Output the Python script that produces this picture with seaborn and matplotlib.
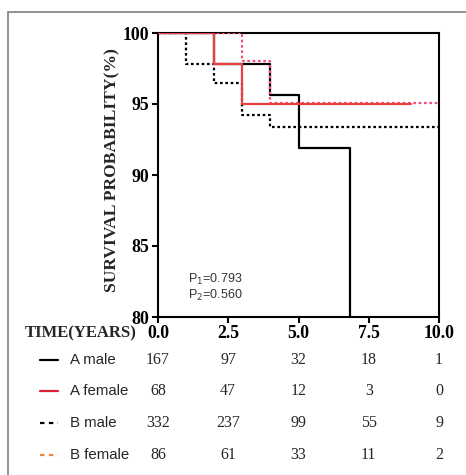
import matplotlib
matplotlib.use("Agg")
import matplotlib.pyplot as plt
import seaborn as sns
import pandas as pd
from matplotlib.lines import Line2D
from matplotlib.patches import Rectangle
import matplotlib.transforms as mtransforms

# ---- data ----
groups = ["A male", "A female", "B male", "B female"]
a_male_t = [0, 2, 4, 5, 6.85]
a_male_s = [100, 97.8, 95.6, 91.9, 70]
a_female_t = [0, 2, 3, 9]
a_female_s = [100, 97.8, 95.0, 95.0]
b_male_t = [0, 1, 2, 3, 4, 10]
b_male_s = [100, 97.8, 96.5, 94.2, 93.4, 93.4]
b_female_t = [0, 3, 4, 10]
b_female_s = [100, 98.0, 95.1, 95.1]

time_ticks = [0.0, 2.5, 5.0, 7.5, 10.0]
time_labels = ["0.0", "2.5", "5.0", "7.5", "10.0"]
y_ticks = [80, 85, 90, 95, 100]
risk_a_male = [167, 97, 32, 18, 1]
risk_a_female = [68, 47, 12, 3, 0]
risk_b_male = [332, 237, 99, 55, 9]
risk_b_female = [86, 61, 33, 11, 2]
p_texts = ["P$_1$=0.793", "P$_2$=0.560"]

series_t = [a_male_t, a_female_t, b_male_t, b_female_t]
series_s = [a_male_s, a_female_s, b_male_s, b_female_s]
risks = [risk_a_male, risk_a_female, risk_b_male, risk_b_female]

styles = {
    "A male": dict(color="black", ls="-", lw=1.6),
    "A female": dict(color="#e8403f", ls="-", lw=1.6),
    "B male": dict(color="black", ls=(0, (1.2, 1.2)), lw=1.6),
    "B female": dict(color="#f0507a", ls=(0, (1.2, 1.2)), lw=1.6),
}
legend_styles = {
    "A male": dict(color="black", ls="-", lw=1.6),
    "A female": dict(color="#e0203a", ls="-", lw=1.6),
    "B male": dict(color="black", ls=(0, (2, 2)), lw=1.6),
    "B female": dict(color="#f08040", ls=(0, (2, 2)), lw=1.6),
}

sns.set_style("ticks")
plt.rcParams["font.family"] = ["Liberation Serif", "DejaVu Serif"]

fig = plt.figure(figsize=(4.66, 4.75), dpi=100)
W, H = 466, 475
ax = fig.add_axes([158 / W, 1 - 317 / H, (439 - 158) / W, (317 - 33) / H])

frames = []
for g, t, s in zip(groups, series_t, series_s):
    frames.append(pd.DataFrame({"time": t, "surv": s, "group": g}))
df = pd.concat(frames, ignore_index=True)

draw_order = ["B male", "A male", "B female", "A female"]
for g in draw_order:
    sub = df[df["group"] == g]
    st = styles[g]
    sns.lineplot(data=sub, x="time", y="surv", ax=ax, estimator=None, sort=False,
                 drawstyle="steps-post", color=st["color"], linestyle=st["ls"],
                 linewidth=st["lw"], zorder=3)

ax.set_xlim(0, 10)
ax.set_ylim(80, 100)
ax.set_xticks(time_ticks)
ax.set_xticklabels(time_labels)
ax.set_yticks(y_ticks)
ax.set_xlabel("")
ax.set_ylabel("SURVIVAL PROBABILITY(%)", fontsize=12.6, fontweight="bold")
for sp in ax.spines.values():
    sp.set_visible(True)
    sp.set_linewidth(1.5)
    sp.set_color("black")
ax.tick_params(axis="both", direction="out", length=4, width=1.5, colors="black",
               labelsize=12.8, pad=2)
for lab in ax.get_xticklabels() + ax.get_yticklabels():
    lab.set_fontweight("bold")
ax.yaxis.set_label_coords(-0.135, 0.518)

for i, txt in enumerate(p_texts):
    ax.text(188 / W, 1 - (279 + i * 16) / H, txt, transform=fig.transFigure,
            fontsize=9, family=["Liberation Sans", "DejaVu Sans"], color="#333333",
            va="center", ha="left")

# risk table
fig.text(25 / W, 1 - 333 / H, "TIME(YEARS)", fontsize=12, fontweight="bold",
         va="center", ha="left")
blend = mtransforms.blended_transform_factory(ax.transData, fig.transFigure)
row_y = [360, 391, 423, 455]
for g, ry, rk in zip(groups, row_y, risks):
    yf = 1 - ry / H
    st = legend_styles[g]
    fig.add_artist(Line2D([40 / W, 58 / W], [yf, yf], transform=fig.transFigure,
                          color=st["color"], linestyle=st["ls"], linewidth=st["lw"]))
    fig.text(70 / W, yf, g, fontsize=10.8, family=["Liberation Sans", "DejaVu Sans"],
             va="center", ha="left")
    for xt, n in zip(time_ticks, rk):
        ax.text(xt, yf, str(n), transform=blend, fontsize=11.5, ha="center",
                va="center", clip_on=False)

# outer frame
fig.add_artist(Rectangle((8 / W, -0.1), 1.2, 1 - 12 / H + 0.1, transform=fig.transFigure,
                         fill=False, edgecolor="#7f7f7f", linewidth=1.2))

fig.savefig("out.png", dpi=100)
